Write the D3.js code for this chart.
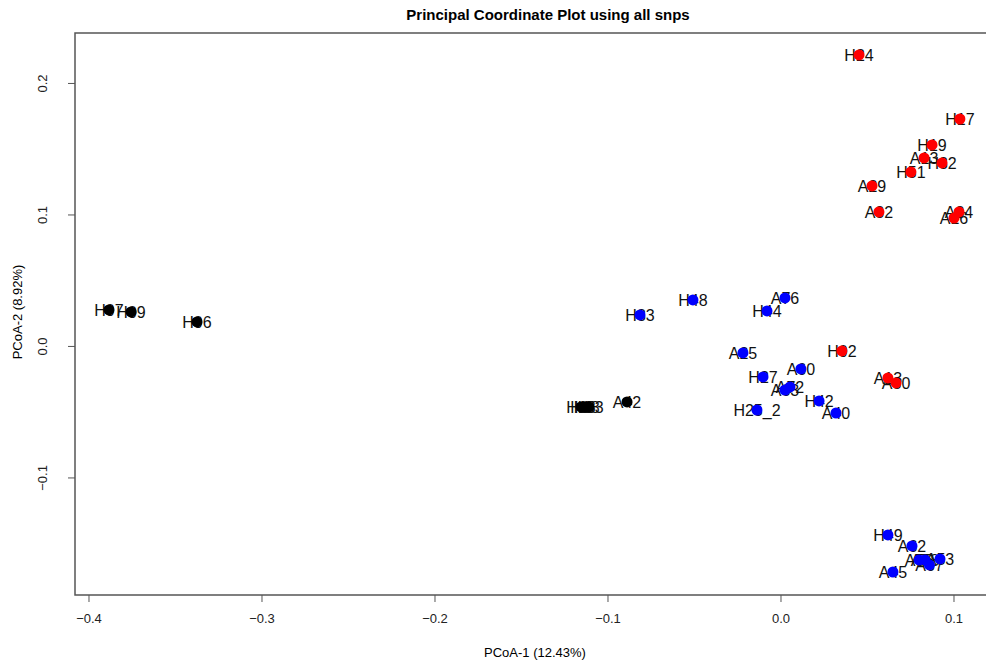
<!DOCTYPE html>
<html>
<head>
<meta charset="utf-8">
<script src="https://cdn.jsdelivr.net/npm/d3@7"></script>
<style>
  body { margin: 0; background: #fff; }
  svg { font-family: "Liberation Sans", Arial, sans-serif; }
</style>
</head>
<body>
<div id="chart"></div>
<script>
// sample labels, coordinates and group colour
const labels = ["H24","H17","H19","A13","H32","H51","A29","A32","A34","A16","H02","A13","A30",
  "H48","A76","H83","H44","A25","A60","H27","A72","A63","H42","A40","H25_2",
  "H49","A62","A56","A58","A53","A67","A45",
  "H07","H09","H06","H13","H18","H53","A42"];
const pc1 = [0.0454,0.1037,0.0876,0.0830,0.0934,0.0754,0.0529,0.0569,0.1032,0.1003,0.0355,0.0621,0.0668,
  -0.0506,0.0026,-0.0812,-0.0078,-0.0217,0.0118,-0.0101,0.0055,0.0026,0.0223,0.0321,-0.0136,
  0.0621,0.0760,0.0801,0.0835,0.0922,0.0861,0.0650,
  -0.3882,-0.3754,-0.3373,-0.1153,-0.1130,-0.1107,-0.0887];
const pc2 = [0.2213,0.1726,0.1529,0.1430,0.1392,0.1323,0.1217,0.1019,0.1019,0.0973,-0.0038,-0.0243,-0.0281,
  0.0350,0.0365,0.0236,0.0266,-0.0053,-0.0175,-0.0236,-0.0312,-0.0335,-0.0418,-0.0510,-0.0487,
  -0.1437,-0.1521,-0.1627,-0.1627,-0.1620,-0.1665,-0.1719,
  0.0274,0.0259,0.0183,-0.0464,-0.0464,-0.0464,-0.0426];
const group = ["red","red","red","red","red","red","red","red","red","red","red","red","red",
  "blue","blue","blue","blue","blue","blue","blue","blue","blue","blue","blue","blue",
  "blue","blue","blue","blue","blue","blue","blue",
  "black","black","black","black","black","black","black"];
const xTicks = [-0.4,-0.3,-0.2,-0.1,0.0,0.1];
const yTicks = [-0.1,0.0,0.1,0.2];

const width = 986, height = 663;
const box = {left: 75, top: 33, right: 990, bottom: 595};

const svg = d3.select("#chart").append("svg")
    .attr("width", width)
    .attr("height", height);

const x = d3.scaleLinear().domain([-0.4078, 0.1211]).range([box.left, box.right]);
const y = d3.scaleLinear().domain([-0.1894, 0.2380]).range([box.bottom, box.top]);

// title
svg.append("text")
    .attr("x", 548).attr("y", 20)
    .attr("text-anchor", "middle")
    .attr("font-weight", "bold")
    .attr("font-size", 15)
    .text("Principal Coordinate Plot using all snps");

// box
svg.append("rect")
    .attr("x", box.left).attr("y", box.top)
    .attr("width", box.right - box.left).attr("height", box.bottom - box.top)
    .attr("fill", "none")
    .attr("stroke", "#555")
    .attr("stroke-width", 1.5);

// x axis
const xAxis = svg.append("g")
    .attr("transform", "translate(0," + box.bottom + ")")
    .call(d3.axisBottom(x).tickValues(xTicks).tickFormat(d3.format(".1f")).tickSize(7).tickPadding(12));
xAxis.select(".domain").remove();
xAxis.selectAll("line").attr("stroke", "#555");
xAxis.selectAll("text").attr("font-size", 13).attr("fill", "#222")
    .attr("font-family", "Liberation Sans, Arial, sans-serif");

// y axis, labels rotated like R
const yAxis = svg.append("g")
    .attr("transform", "translate(" + box.left + ",0)")
    .call(d3.axisLeft(y).tickValues(yTicks).tickFormat(d3.format(".1f")).tickSize(7));
yAxis.select(".domain").remove();
yAxis.selectAll("line").attr("stroke", "#555");
yAxis.selectAll("text")
    .attr("font-size", 13).attr("fill", "#222")
    .attr("font-family", "Liberation Sans, Arial, sans-serif")
    .attr("x", null).attr("dy", null)
    .attr("text-anchor", "middle")
    .attr("transform", "translate(-28,0) rotate(-90)");

// axis titles
svg.append("text")
    .attr("x", 535).attr("y", 657)
    .attr("text-anchor", "middle")
    .attr("font-size", 13)
    .text("PCoA-1 (12.43%)");
svg.append("text")
    .attr("transform", "translate(22,312) rotate(-90)")
    .attr("text-anchor", "middle")
    .attr("font-size", 13)
    .text("PCoA-2 (8.92%)");

const pts = labels.map((l, i) => ({label: l, x: pc1[i], y: pc2[i], col: group[i]}));

// sample labels
svg.append("g").selectAll("text")
    .data(pts)
    .enter().append("text")
    .attr("x", d => x(d.x))
    .attr("y", d => y(d.y))
    .attr("dy", "0.36em")
    .attr("text-anchor", "middle")
    .attr("font-size", 16)
    .attr("fill", "#111")
    .text(d => d.label);

// points on top
svg.append("g").selectAll("circle")
    .data(pts)
    .enter().append("circle")
    .attr("cx", d => x(d.x))
    .attr("cy", d => y(d.y))
    .attr("r", 5.5)
    .attr("fill", d => d.col);
</script>
</body>
</html>
